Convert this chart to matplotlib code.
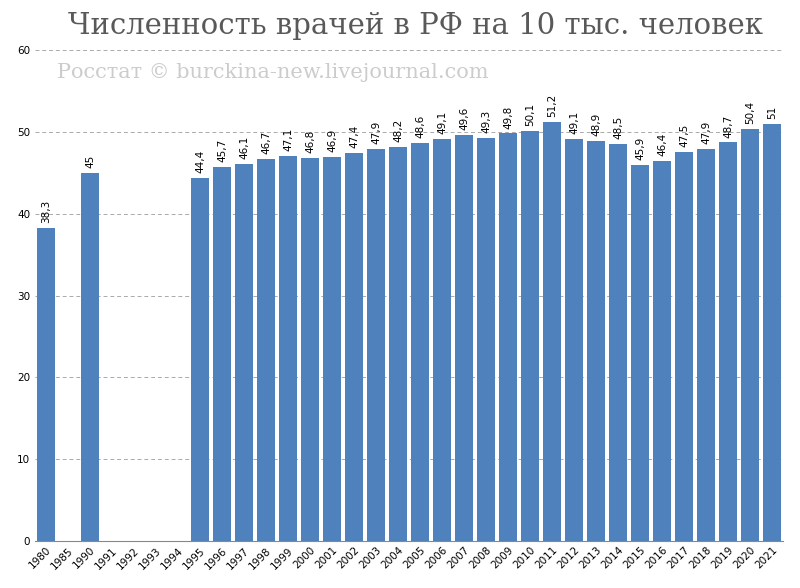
import matplotlib

matplotlib.use("Agg")
import matplotlib.pyplot as plt
import numpy as np

YEARS = ["1980", "1985", "1990", "1991", "1992", "1993", "1994"] + [str(y) for y in range(1995, 2022)]
VALUES = [38.3, None, 45.0, None, None, None, None,
          44.4, 45.7, 46.1, 46.7, 47.1, 46.8, 46.9, 47.4, 47.9, 48.2, 48.6, 49.1, 49.6,
          49.3, 49.8, 50.1, 51.2, 49.1, 48.9, 48.5, 45.9, 46.4, 47.5, 47.9, 48.7, 50.4, 51.0]
TITLE = "Численность врачей в РФ на 10 тыс. человек"
WATERMARK = "Росстат © burckina-new.livejournal.com"

fig = plt.figure(figsize=(8, 5.88), dpi=100)
ax = fig.add_axes([35 / 800, 47 / 588, 748 / 800, 491 / 588])

x = np.arange(len(YEARS))
heights = [v if v is not None else 0 for v in VALUES]
ax.bar(x, heights, width=0.78, color="#4F81BD", zorder=2)
for xi, v in zip(x, VALUES):
    if v is None:
        continue
    txt = f"{v:g}".replace(".", ",")
    ax.text(xi, v + 0.6, txt, rotation=90, ha="center", va="bottom", fontsize=7.5, zorder=3)

ax.set_xlim(-0.5, len(YEARS) - 0.5)
ax.set_ylim(0, 60)
ax.set_yticks(range(0, 61, 10))
ax.set_xticks(x)
ax.set_xticklabels(YEARS, rotation=45, ha="right", rotation_mode="anchor", fontsize=7.5)
ax.tick_params(axis="y", labelsize=7.5, length=0)
ax.tick_params(axis="x", length=0, pad=3)
ax.yaxis.grid(True, color="#aaaaaa", linestyle=(0, (4, 3)), linewidth=0.7, zorder=0)
for s in ["top", "right", "left"]:
    ax.spines[s].set_visible(False)
ax.spines["bottom"].set_color("#888888")

fig.text(0.52, 0.955, TITLE, ha="center", va="center", fontsize=21,
         family="DejaVu Serif", color="#595959")
ax.text(0.03, 0.955, WATERMARK, transform=ax.transAxes, ha="left", va="center",
        fontsize=15, family="DejaVu Serif", color="#cccccc", zorder=1)

fig.savefig("out.png", dpi=100)
plt.close(fig)
